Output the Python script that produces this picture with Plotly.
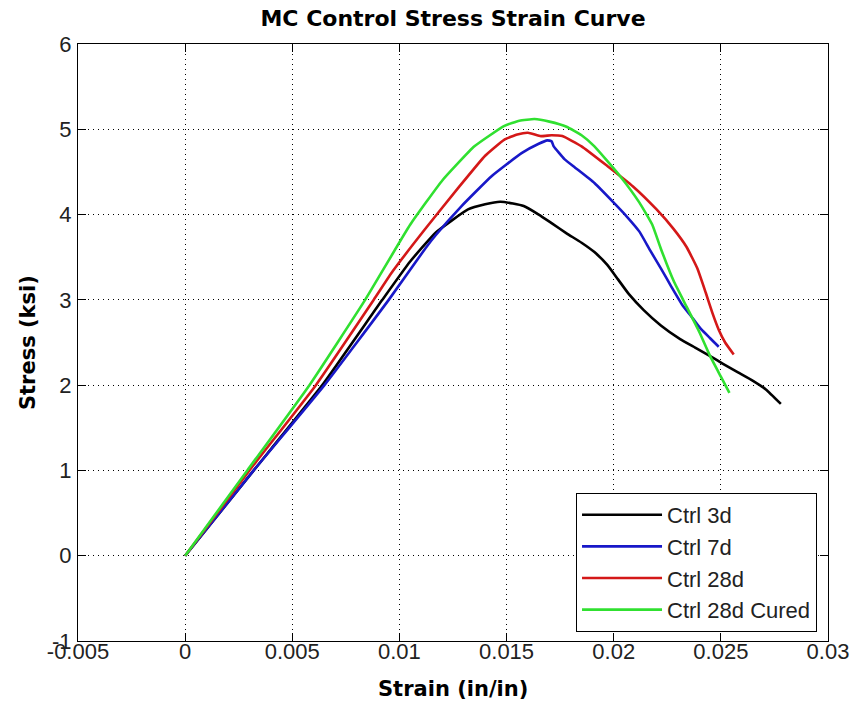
import plotly.graph_objects as go

# ---- data ----
strain_3d = [0, 0.0032, 0.0064, 0.0092, 0.0105, 0.0117, 0.0132, 0.0140, 0.0147, 0.0153, 0.0158,
             0.0165, 0.0171, 0.0178, 0.0185, 0.0191, 0.0197, 0.0202, 0.0207, 0.0214, 0.0222,
             0.0231, 0.0238, 0.0245, 0.0251, 0.0258, 0.0265, 0.0271, 0.0278]
stress_3d = [0, 1.00, 2.00, 3.00, 3.45, 3.79, 4.06, 4.12, 4.15, 4.13, 4.10,
             4.00, 3.90, 3.78, 3.67, 3.56, 3.41, 3.24, 3.07, 2.88, 2.70,
             2.54, 2.44, 2.34, 2.25, 2.15, 2.05, 1.95, 1.78]

strain_7d = [0, 0.0032, 0.0065, 0.0095, 0.0112, 0.0117, 0.0129, 0.0143, 0.0157, 0.0165, 0.0169,
             0.0171, 0.0172, 0.0177, 0.0182, 0.0191, 0.0200, 0.0206, 0.0212, 0.0217, 0.0222,
             0.0227, 0.0232, 0.0237, 0.0241, 0.0245, 0.0249]
stress_7d = [0, 1.00, 2.00, 3.00, 3.60, 3.76, 4.10, 4.45, 4.72, 4.83, 4.87,
             4.86, 4.80, 4.65, 4.55, 4.37, 4.14, 3.98, 3.80, 3.58, 3.37,
             3.15, 2.94, 2.78, 2.65, 2.55, 2.45]

strain_28d = [0, 0.0030, 0.0061, 0.0088, 0.0097, 0.0112, 0.0128, 0.0140, 0.0149, 0.0155, 0.0160,
              0.0166, 0.0171, 0.0176, 0.0185, 0.0197, 0.0209, 0.0220, 0.0228, 0.0234, 0.0239,
              0.0243, 0.0246, 0.0249, 0.0252, 0.0256]
stress_28d = [0, 1.00, 2.00, 3.00, 3.34, 3.83, 4.33, 4.69, 4.88, 4.94, 4.96,
              4.92, 4.93, 4.92, 4.80, 4.57, 4.33, 4.06, 3.83, 3.62, 3.37,
              3.08, 2.85, 2.65, 2.50, 2.36]

strain_28c = [0, 0.0029, 0.0058, 0.0084, 0.0105, 0.0120, 0.0135, 0.0149, 0.0156, 0.0163, 0.0170,
              0.0178, 0.0185, 0.0191, 0.0203, 0.0212, 0.0218, 0.0222, 0.0228, 0.0234, 0.0240,
              0.0245, 0.0250, 0.0254]
stress_28c = [0, 1.00, 2.00, 3.00, 3.88, 4.40, 4.80, 5.04, 5.10, 5.12, 5.09,
              5.03, 4.93, 4.80, 4.45, 4.14, 3.88, 3.60, 3.22, 2.92, 2.62,
              2.34, 2.10, 1.91]

series_names = ["Ctrl 3d", "Ctrl 7d", "Ctrl 28d", "Ctrl 28d Cured"]

x_tickvals = [-0.005, 0, 0.005, 0.01, 0.015, 0.02, 0.025, 0.03]
x_ticktext = ["-0.005", "0", "0.005", "0.01", "0.015", "0.02", "0.025", "0.03"]
y_tickvals = [-1, 0, 1, 2, 3, 4, 5, 6]
y_ticktext = ["-1", "0", "1", "2", "3", "4", "5", "6"]

colors = ["#000000", "#1818c8", "#d41818", "#30e030"]

fig = go.Figure()
for xs, ys, name, c in zip([strain_3d, strain_7d, strain_28d, strain_28c],
                           [stress_3d, stress_7d, stress_28d, stress_28c],
                           series_names, colors):
    fig.add_trace(go.Scatter(x=xs, y=ys, mode="lines", name=name,
                             line=dict(color=c, width=2.6, shape="spline", smoothing=0.4)))

tick_font = dict(family="Liberation Sans, Arial", size=22, color="#222222")
common_axis = dict(showline=True, linecolor="black", linewidth=1, mirror="ticks",
                   ticks="inside", ticklen=8, tickcolor="black", tickwidth=1,
                   showgrid=True, gridcolor="black", gridwidth=1, griddash="1px,4px",
                   zeroline=False, tickfont=tick_font)

fig.update_layout(
    width=861, height=713,
    margin=dict(l=78, r=24, t=44, b=72),
    paper_bgcolor="white", plot_bgcolor="white",
    title=dict(text="MC Control Stress Strain Curve", x=0.5, xref="paper", xanchor="center",
               y=1 - 18 / 713, yref="container", yanchor="middle",
               font=dict(family="DejaVu Sans", size=22, weight="bold", color="black")),
    xaxis=dict(range=[-0.005, 0.03], tickvals=x_tickvals, ticktext=x_ticktext,
               ticklabelstandoff=-9, **common_axis),
    yaxis=dict(range=[-1, 6], tickvals=y_tickvals, ticktext=y_ticktext,
               ticklabelstandoff=1, **common_axis),
    legend=dict(x=(582 - 78) / 759, xanchor="left", y=0.0151, yanchor="bottom",
                bgcolor="white", bordercolor="black", borderwidth=1,
                font=dict(family="Liberation Sans, Arial", size=22, color="#222222"),
                itemwidth=80, tracegroupgap=0),
    showlegend=True,
    annotations=[
        dict(text="Strain (in/in)", xref="paper", yref="paper", x=0.5, y=-48 / 597,
             xanchor="center", yanchor="middle", showarrow=False,
             font=dict(family="DejaVu Sans", size=21, weight="bold", color="black")),
        dict(text="Stress (ksi)", xref="paper", yref="paper", x=(27 - 78) / 759, y=0.5,
             xanchor="center", yanchor="middle", showarrow=False, textangle=-90,
             font=dict(family="DejaVu Sans", size=21, weight="bold", color="black")),
    ],
)

fig.write_html("out.html")
